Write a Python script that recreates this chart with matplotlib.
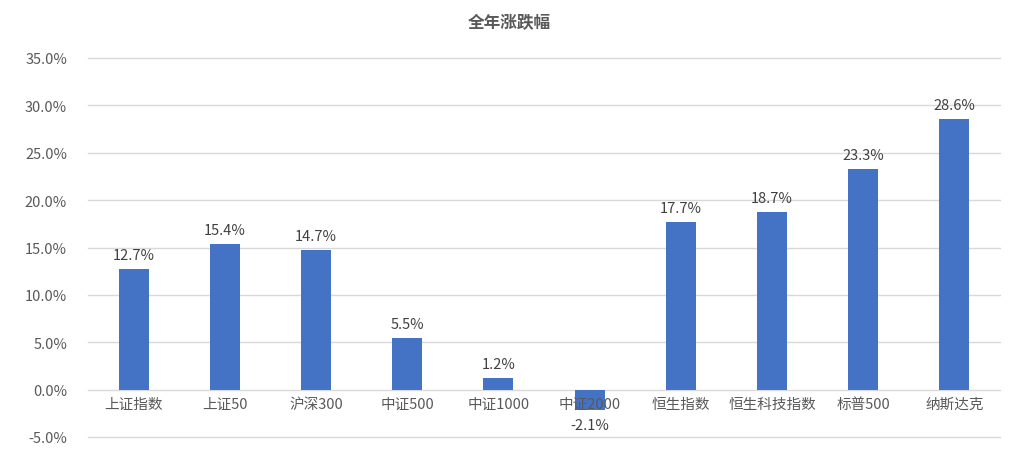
import matplotlib
matplotlib.use('Agg')
import matplotlib.pyplot as plt
from matplotlib.ticker import FuncFormatter

plt.rcParams['font.family'] = ['Noto Sans CJK SC', 'DejaVu Sans']

categories = ['上证指数', '上证50', '沪深300', '中证500', '中证1000', '中证2000',
              '恒生指数', '恒生科技指数', '标普500', '纳斯达克']
changes = [12.7, 15.4, 14.7, 5.5, 1.2, -2.1, 17.7, 18.7, 23.3, 28.6]
title = '全年涨跌幅'

fig = plt.figure(figsize=(10.19, 4.77), dpi=100)
ax = fig.add_axes([88 / 1019, 39 / 477, 912 / 1019, 379 / 477])

x = range(len(categories))
ax.bar(x, changes, width=0.33, color='#4472C4', zorder=3)

ax.set_xlim(-0.5, len(categories) - 0.5)
ax.set_ylim(-5, 35)
ax.set_yticks(range(-5, 36, 5))
ax.yaxis.set_major_formatter(FuncFormatter(lambda v, p: f'{v:.1f}%'))
ax.tick_params(axis='y', length=0, pad=15, labelsize=10.5, labelcolor='#595959')
ax.set_xticks([])
ax.grid(axis='y', color='#D9D9D9', linewidth=1, zorder=0)
for gl in ax.get_ygridlines():
    gl.set_clip_on(False)
for s in ax.spines.values():
    s.set_visible(False)

# category labels sit just under the zero line, drawn over the bars
for i, name in enumerate(categories):
    ax.annotate(name, (i, 0), xytext=(0, -5), textcoords='offset points',
                ha='center', va='top', fontsize=10.5, color='#595959', zorder=5)

for i, v in enumerate(changes):
    if v >= 0:
        ax.annotate(f'{v:.1f}%', (i, v), xytext=(0, 5), textcoords='offset points',
                    ha='center', va='bottom', fontsize=10.5, color='#404040')
    else:
        ax.annotate(f'{v:.1f}%', (i, v), xytext=(0, -6), textcoords='offset points',
                    ha='center', va='top', fontsize=10.5, color='#404040')

fig.text(0.5, 1 - 23 / 477, title, ha='center', va='center', fontsize=12,
         fontweight='bold', color='#595959')

fig.savefig('out.png', dpi=100)
